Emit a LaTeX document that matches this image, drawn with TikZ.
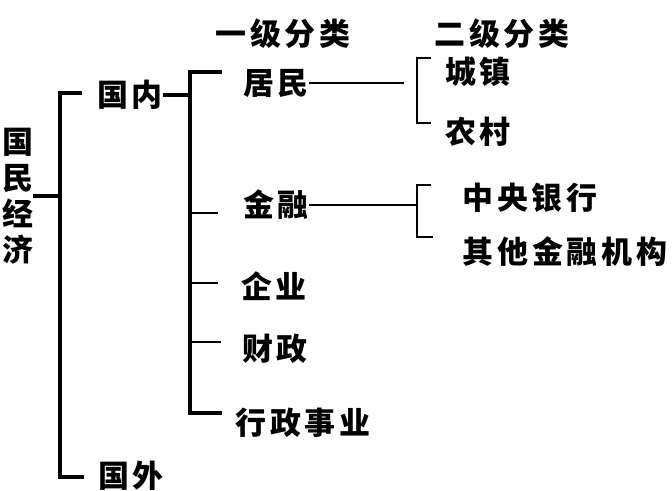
\documentclass[tikz,border=0pt]{standalone}
\usepackage{fontspec}
\newfontfamily\cjk[LetterSpace=12]{Noto Sans CJK SC}
\begin{document}
\begin{tikzpicture}[x=0.025cm, y=-0.025cm, line cap=rect,
        barline/.style={line width=2.6pt},
        twig/.style={line width=2pt},
        thinline/.style={line width=1.4pt}]
        \useasboundingbox (0,0) rectangle (672,491);
        \begin{scope}[every node/.style={inner sep=1pt,font=\cjk\bfseries\fontsize{22pt}{25.6pt}\selectfont}]
            \node (h1) at (283,34) {一级分类};
            \node (h2) at (502,34) {二级分类};
            \node[align=center] (0) at (18,196) {国\\民\\经\\济};
            \node (1) at (130,95) {国内};
            \node (2) at (131,476) {国外};
            \node (11) at (276,83) {居民};
            \node (12) at (276,205) {金融};
            \node (13) at (274,286) {企业};
            \node (14) at (275,349) {财政};
            \node (15) at (303,423) {行政事业};
            \node (111) at (478,72) {城镇};
            \node (112) at (478,132) {农村};
            \node (121) at (530,198) {中央银行};
            \node (122) at (565,252) {其他金融机构};
        \end{scope}
        \coordinate (b0) at (60,196);
        \coordinate (t1) at (80,93);
        \coordinate (t2) at (82,477);
        \coordinate (b1) at (190,95);
        \coordinate (t11) at (220,72);
        \coordinate (t12) at (217,213);
        \coordinate (t13) at (217,283);
        \coordinate (t14) at (220,342);
        \coordinate (t15) at (220,413);
        \coordinate (c11) at (403,83);
        \coordinate (b11) at (417,90);
        \coordinate (t111) at (430,58);
        \coordinate (t112) at (430,123);
        \coordinate (b12) at (417,205);
        \coordinate (t121) at (430,185);
        \coordinate (t122) at (432,237);
        \begin{scope}[barline]
            \draw (0) -- (b0);
            \draw (t1) -| (b0) |- (t2);
            \draw (1) -- (b1);
            \draw (t11) -| (b1) |- (t15);
        \end{scope}
        \begin{scope}[twig]
            \draw (b1 |- t12) -- (t12);
            \draw (b1 |- t13) -- (t13);
            \draw (b1 |- t14) -- (t14);
        \end{scope}
        \begin{scope}[thinline]
            \draw (11) -- (c11);
            \draw (t111) -| (b11) |- (t112);
            \draw (12) -- (b12);
            \draw (t121) -| (b12) |- (t122);
        \end{scope}
    \end{tikzpicture}
\end{document}
